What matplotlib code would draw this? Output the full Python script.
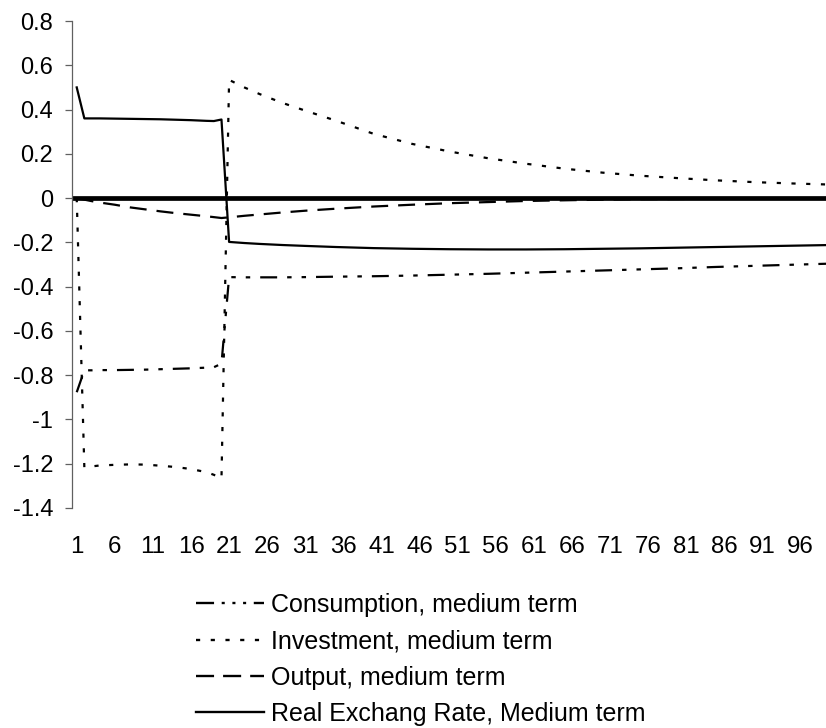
import matplotlib
matplotlib.use("Agg")
import matplotlib.pyplot as plt
from matplotlib.lines import Line2D

plt.rcParams["font.family"] = ["Liberation Sans", "DejaVu Sans"]
plt.rcParams["lines.scale_dashes"] = False

# impulse responses, sampled periods
periods = [1, 2, 3, 4, 6, 8, 10, 12, 14, 16, 18, 19, 20, 21, 23, 25, 28, 31, 35,
           40, 45, 50, 55, 60, 65, 70, 75, 80, 85, 90, 95, 100]

consumption = [-0.877, -0.778, -0.778, -0.777, -0.777, -0.776, -0.775, -0.773,
               -0.771, -0.769, -0.766, -0.764, -0.748, -0.357, -0.358, -0.358,
               -0.358, -0.357, -0.355, -0.353, -0.350, -0.346, -0.342, -0.337,
               -0.332, -0.327, -0.322, -0.317, -0.311, -0.306, -0.301, -0.296]

investment = [0.0, -1.217, -1.212, -1.208, -1.205, -1.203, -1.204, -1.209,
              -1.215, -1.224, -1.238, -1.250, -1.268, 0.534, 0.500, 0.470,
              0.430, 0.395, 0.350, 0.290, 0.245, 0.210, 0.180, 0.155, 0.133,
              0.115, 0.101, 0.090, 0.080, 0.072, 0.066, 0.061]

output = [0.0, -0.007, -0.014, -0.020, -0.030, -0.042, -0.051, -0.060, -0.068,
          -0.075, -0.082, -0.086, -0.090, -0.087, -0.080, -0.074, -0.065,
          -0.057, -0.048, -0.038, -0.030, -0.023, -0.018, -0.013, -0.010,
          -0.007, -0.005, -0.004, -0.003, -0.002, -0.001, -0.001]

real_exchange = [0.50, 0.36, 0.36, 0.36, 0.359, 0.358, 0.357, 0.356, 0.354,
                 0.352, 0.349, 0.348, 0.355, -0.198, -0.203, -0.207, -0.212,
                 -0.216, -0.221, -0.226, -0.229, -0.231, -0.232, -0.232, -0.231,
                 -0.229, -0.227, -0.224, -0.221, -0.218, -0.215, -0.212]

xtick_values = list(range(1, 100, 5))
ytick_values = [0.8, 0.6, 0.4, 0.2, 0.0, -0.2, -0.4, -0.6, -0.8, -1.0, -1.2, -1.4]
ytick_labels = ["0.8", "0.6", "0.4", "0.2", "0", "-0.2", "-0.4", "-0.6",
                "-0.8", "-1", "-1.2", "-1.4"]

labels = ["Consumption, medium term", "Investment, medium term",
          "Output, medium term", "Real Exchang Rate, Medium term"]

# dash patterns in points (scale_dashes off)
styles = [
    (0, (12.2, 7.2, 3.2, 7.2, 3.2, 7.2)),
    (0, (3.0, 7.6)),
    (0, (12.2, 7.2)),
    "solid",
]
legend_styles = [
    (0, (13.0, 5.5, 2.2, 5.5, 2.2, 5.5, 2.2, 5.5)),
    (0, (3.0, 7.6)),
    (0, (13.0, 6.5)),
    "solid",
]

fig = plt.figure(figsize=(8.26, 7.28), dpi=100)
ax = fig.add_axes([72 / 826, 1 - 508 / 728, 1 - 72 / 826, (508 - 21) / 728])

ax.axhline(0, color="black", lw=3.4, zorder=1)

series = [consumption, investment, output, real_exchange]
for vals, ls in zip(series, styles):
    ax.plot(periods, vals, color="black", lw=1.6, linestyle=ls,
            dash_capstyle="butt", zorder=2)

ax.set_xlim(0.38, 99.35)
ax.set_ylim(-1.4, 0.8)

for side in ["top", "right", "bottom"]:
    ax.spines[side].set_visible(False)
ax.spines["left"].set_color("#606060")
ax.spines["left"].set_linewidth(0.9)

ax.set_yticks(ytick_values)
ax.set_yticklabels(ytick_labels)
ax.tick_params(axis="y", length=5, width=0.9, color="#606060", pad=8.5,
               labelsize=17)
ax.set_xticks(xtick_values)
ax.set_xticklabels([str(v) for v in xtick_values])
ax.tick_params(axis="x", length=0, pad=20, labelsize=17.3)

handles = [Line2D([], [], color="black", lw=1.7, linestyle=ls,
                  dash_capstyle="butt") for ls in legend_styles]
fig.legend(handles, labels, loc="upper left",
           bbox_to_anchor=(196 / 826, 1 - 593 / 728), frameon=False,
           fontsize=18, handlelength=2.72, handletextpad=0.28,
           labelspacing=0.49, borderpad=0, borderaxespad=0)

fig.savefig("out.png", dpi=100)
